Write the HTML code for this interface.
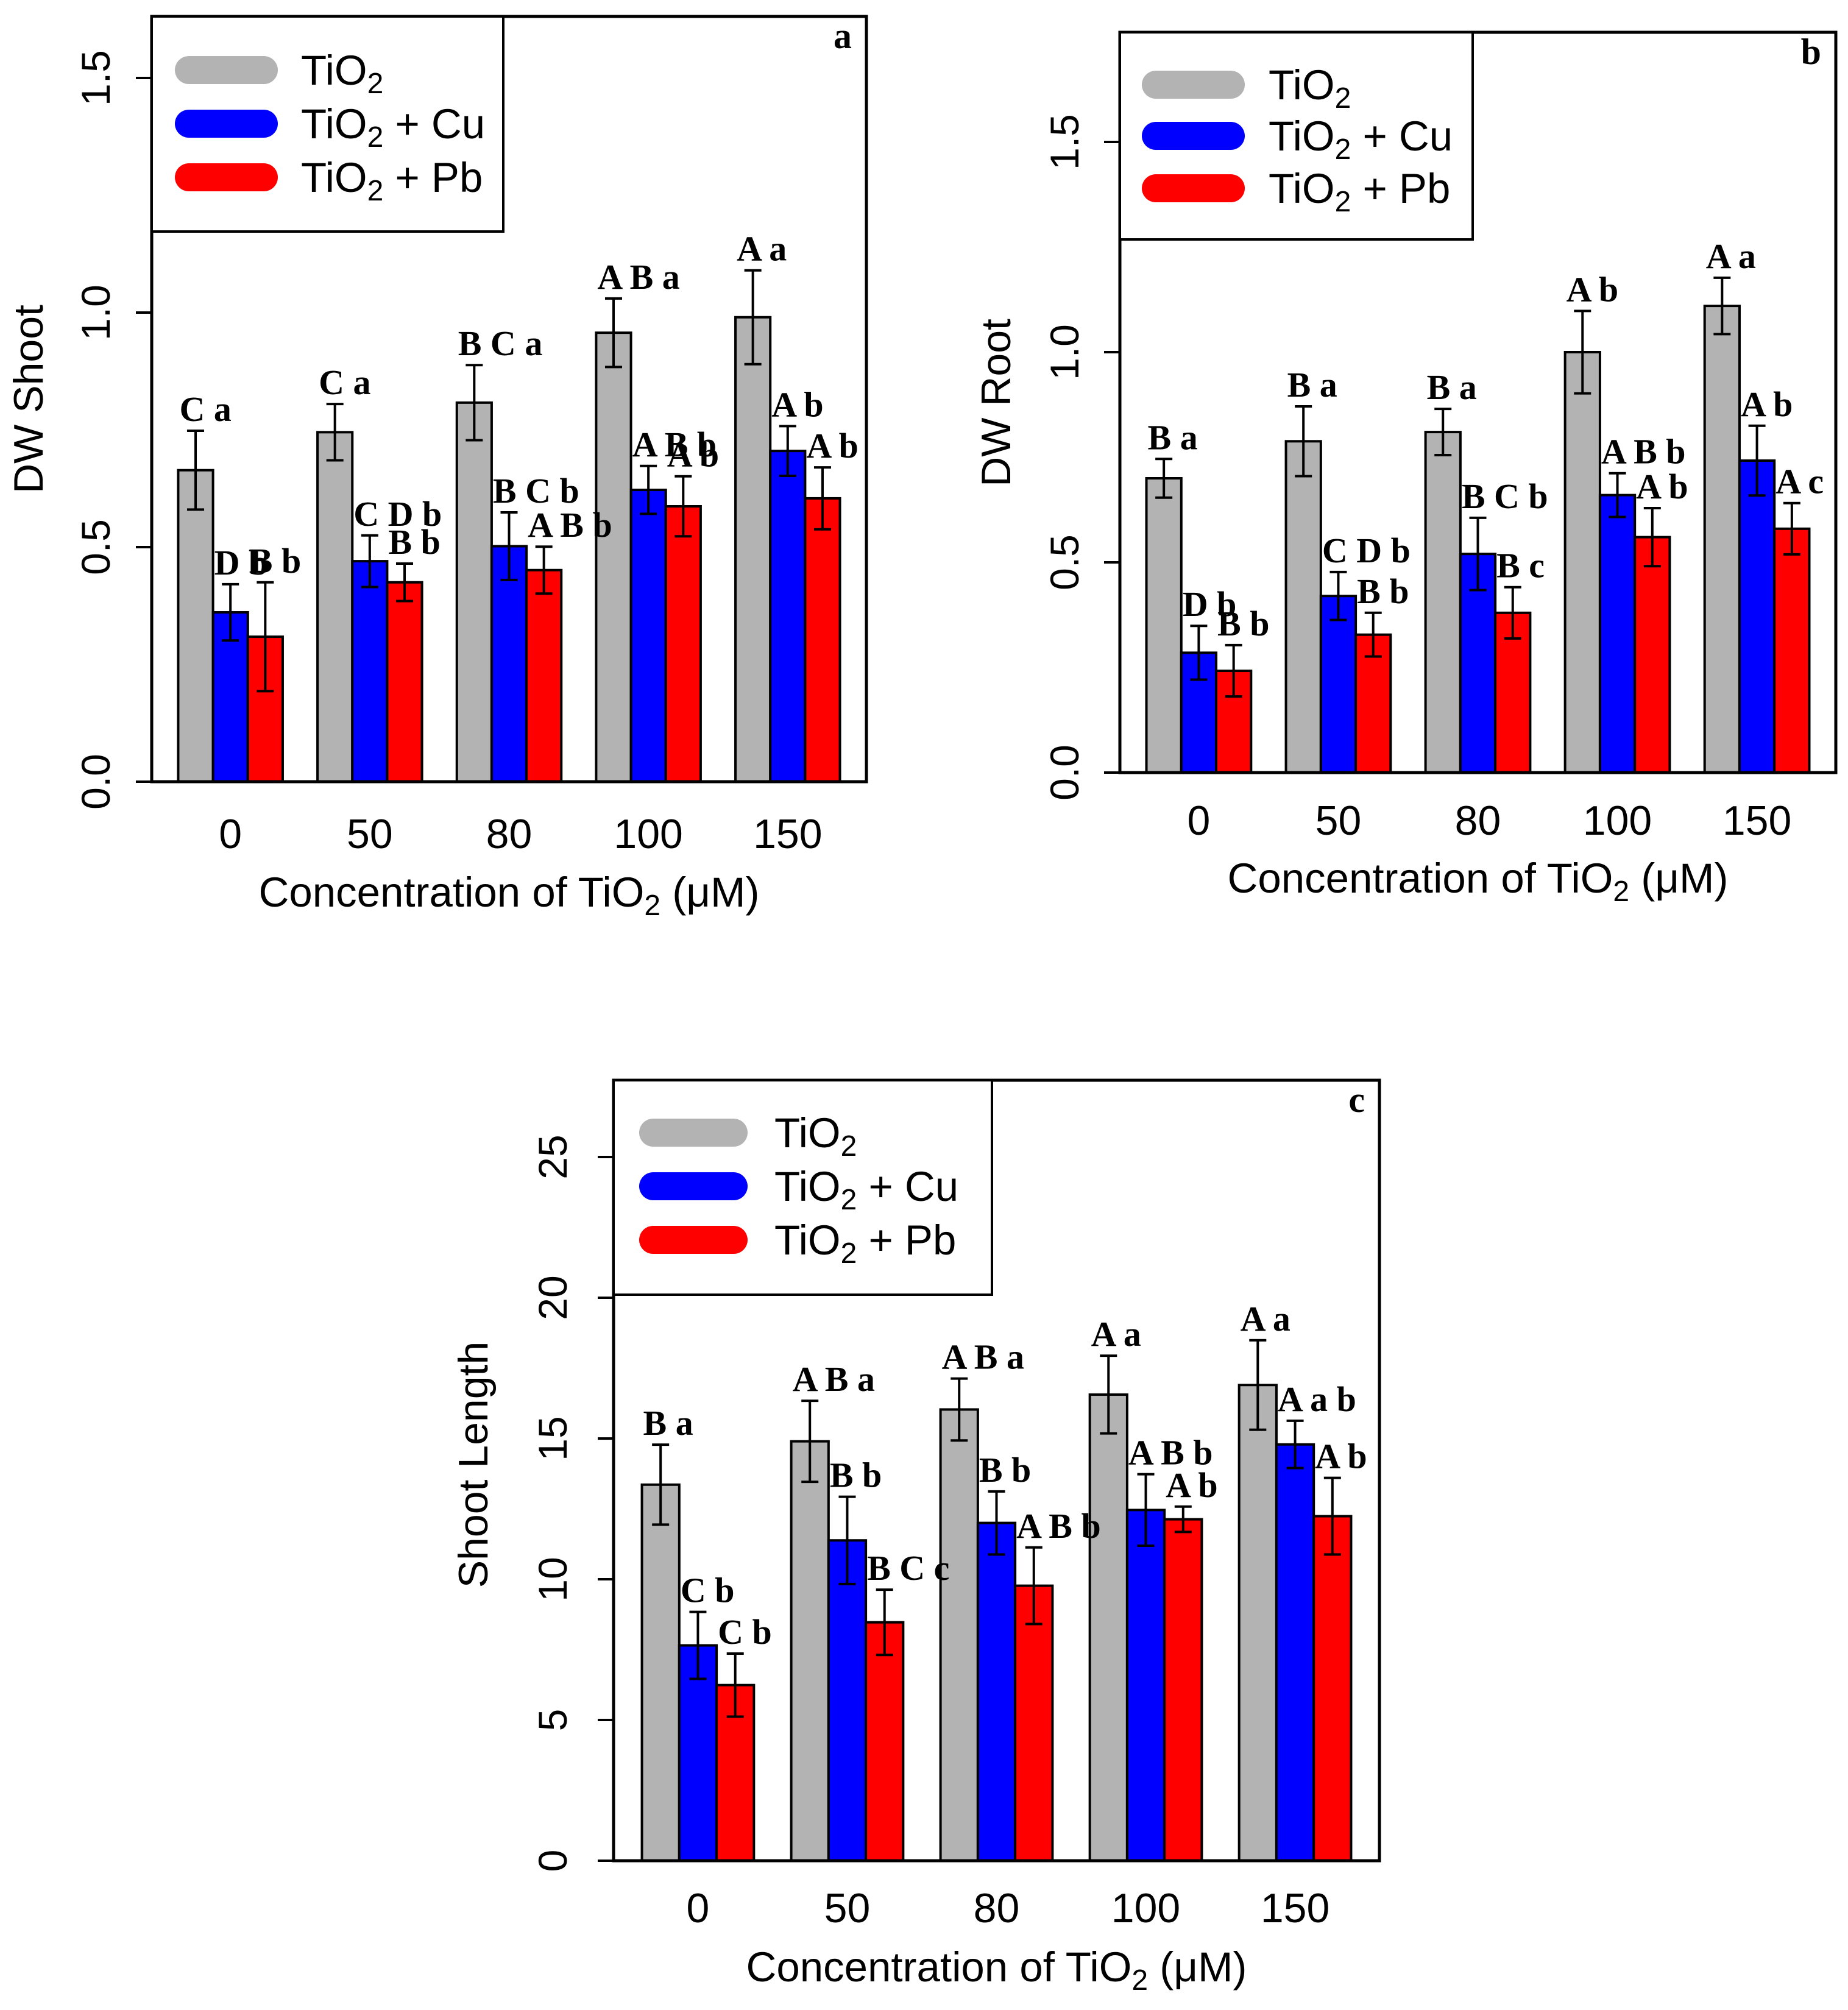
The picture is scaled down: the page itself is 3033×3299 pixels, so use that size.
<!DOCTYPE html>
<html><head><meta charset="utf-8"><style>
html,body{margin:0;padding:0;background:#fff;}
svg{display:block;}
</style></head><body>
<svg id="fig" xmlns="http://www.w3.org/2000/svg" width="3033" height="3299" viewBox="0 0 3033 3299"></svg>
<script>
const categories = ["0","50","80","100","150"];
const seriesNames = ["TiO2","TiO2 + Cu","TiO2 + Pb"];
const seriesColors = ["#b3b3b3","#0000ff","#ff0000"];

const aGray = [0.664,0.745,0.808,0.957,0.99];
const aGrayErr = [0.084,0.06,0.08,0.073,0.10];
const aBlue = [0.361,0.47,0.502,0.622,0.705];
const aBlueErr = [0.06,0.055,0.072,0.051,0.053];
const aRed = [0.309,0.425,0.451,0.587,0.604];
const aRedErr = [0.116,0.04,0.05,0.064,0.066];
const aTicks = ["0.0","0.5","1.0","1.5"];
const aGrayLab = ["C a","C a","B C a","A B a","A a"];
const aBlueLab = ["D b","C D b","B C b","A B b","A b"];
const aRedLab = ["B b","B b","A B b","A b","A b"];

const bGray = [0.70,0.788,0.81,1.0,1.11];
const bGrayErr = [0.046,0.083,0.055,0.098,0.067];
const bBlue = [0.285,0.42,0.52,0.66,0.742];
const bBlueErr = [0.064,0.057,0.086,0.052,0.083];
const bRed = [0.242,0.328,0.38,0.56,0.58];
const bRedErr = [0.061,0.052,0.061,0.069,0.061];
const bTicks = ["0.0","0.5","1.0","1.5"];
const bGrayLab = ["B a","B a","B a","A b","A a"];
const bBlueLab = ["D b","C D b","B C b","A B b","A b"];
const bRedLab = ["B b","B b","B c","A b","A c"];

const cGray = [13.36,14.9,16.03,16.56,16.9];
const cGrayErr = [1.42,1.44,1.1,1.38,1.59];
const cBlue = [7.65,11.38,12.0,12.46,14.79];
const cBlueErr = [1.19,1.55,1.12,1.27,0.84];
const cRed = [6.24,8.47,9.77,12.13,12.24];
const cRedErr = [1.12,1.16,1.36,0.45,1.36];
const cTicks = ["0","5","10","15","20","25"];
const cGrayLab = ["B a","A B a","A B a","A a","A a"];
const cBlueLab = ["C b","B b","B b","A B b","A a b"];
const cRedLab = ["C b","B C c","A B b","A b","A b"];

const NS="http://www.w3.org/2000/svg";
const svg=document.getElementById('fig');
function mk(tag,attrs,parent){const e=document.createElementNS(NS,tag);for(const k in attrs)e.setAttribute(k,attrs[k]);(parent||svg).appendChild(e);return e;}

function panel(p){
  const g=mk('g',{});
  
  
  const pw=p.right-p.left;
  const upx=pw/20.52;
  const xs=u=>p.left+(u-0.24)*upx;
  const ys=v=>p.y0-v*p.ppu;
  const series=[p.gray,p.blue,p.red], errs=[p.grayErr,p.blueErr,p.redErr], labs=[p.grayLab,p.blueLab,p.redLab];
  const labelQueue=[];
  for(let i=0;i<categories.length;i++){
    for(let s=0;s<3;s++){
      const u=1+i*4+s;
      const x=xs(u), w=upx, y=ys(series[s][i]);
      const r=mk('rect',{x:x,y:y,width:w,height:p.y0-y,fill:seriesColors[s],stroke:'#000','stroke-width':4},g);
      
      
      const cx=x+w/2, top=ys(series[s][i]+errs[s][i]), bot=ys(series[s][i]-errs[s][i]);
      const eb=mk('path',{d:`M${cx},${top}V${bot}M${cx-14},${top}H${cx+14}M${cx-14},${bot}H${cx+14}`,stroke:'#000','stroke-width':4,fill:'none'},g);
      
      
      labelQueue.push([x+2,top-16,labs[s][i]]);
    }
    const xl=mk('text',{x:xs(2.5+i*4),y:p.xlabY,'text-anchor':'middle','font-family':'"Liberation Sans",sans-serif','font-size':68,fill:'#000'},g);
    xl.textContent=categories[i];
    
    
  }
  const bx=mk('rect',{x:p.left,y:p.top,width:pw,height:p.y0-p.top,fill:'none',stroke:'#000','stroke-width':5},g);
  
  
  for(const L of labelQueue){
    const t=mk('text',{x:L[0],y:L[1],'font-family':'"Liberation Serif",serif','font-weight':'bold','font-size':58,'word-spacing':0,fill:'#000'},g);
    t.textContent=L[2];
    
    
  }
  for(let k=0;k<p.ticks.length;k++){
    const v=parseFloat(p.ticks[k]), y=ys(v);
    const tk=mk('line',{x1:p.left-26,x2:p.left,y1:y,y2:y,stroke:'#000','stroke-width':4},g);
    
    
    const tl=mk('text',{x:0,y:0,transform:`translate(${p.ytx},${y}) rotate(-90)`,'text-anchor':'middle','font-family':'"Liberation Sans",sans-serif','font-size':66,fill:'#000'},g);
    tl.textContent=p.ticks[k];
    
    
  }
  const yt=mk('text',{x:0,y:0,transform:`translate(${p.yTitleX},${p.yTitleY}) rotate(-90)`,'text-anchor':'middle','font-family':'"Liberation Sans",sans-serif','font-size':68,fill:'#000'},g);
  yt.textContent=p.ytitle;
  
  
  const xt=mk('text',{x:(p.left+p.right)/2,y:p.xTitleY,'text-anchor':'middle','font-family':'"Liberation Sans",sans-serif','font-size':69,fill:'#000'},g);
  xt.innerHTML='Concentration of TiO<tspan dy="14" font-size="48">2</tspan><tspan dy="-14"> (μM)</tspan>';
  
  
  const pl=mk('text',{x:p.right-24,y:p.top+52,'text-anchor':'end','font-family':'"Liberation Serif",serif','font-weight':'bold','font-size':60,fill:'#000'},g);
  pl.textContent=p.id;
  
  
  const lg=mk('g',{},g);
  
  
  mk('rect',{x:p.left,y:p.top,width:p.legR-p.left,height:p.legB-p.top,fill:'#fff',stroke:'#000','stroke-width':4},lg);
  for(let s=0;s<3;s++){
    const y=p.legY[s];
    const pill=mk('line',{x1:p.pillX1,x2:p.pillX2,y1:y,y2:y,stroke:seriesColors[s],'stroke-width':46,'stroke-linecap':'round'},lg);
    
    
    const t=mk('text',{x:p.legTextX,y:y+24,'font-family':'"Liberation Sans",sans-serif','font-size':69,fill:'#000'},lg);
    const suffix=seriesNames[s].slice(4);
    t.innerHTML='TiO<tspan dy="14" font-size="48">2</tspan><tspan dy="-14">'+suffix+'</tspan>';
    
    
  }
}

panel({id:'a',left:249,right:1422,top:27,y0:1283,ppu:770,gray:aGray,grayErr:aGrayErr,blue:aBlue,blueErr:aBlueErr,red:aRed,redErr:aRedErr,grayLab:aGrayLab,blueLab:aBlueLab,redLab:aRedLab,ticks:aTicks,ytx:180,ytitle:'DW Shoot',yTitleX:70,yTitleY:655,xlabY:1392,xTitleY:1488,legR:826,legB:380,legY:[115,203,291],pillX1:310,pillX2:433,legTextX:494});
panel({id:'b',left:1838,right:3013,top:53,y0:1268,ppu:690,gray:bGray,grayErr:bGrayErr,blue:bBlue,blueErr:bBlueErr,red:bRed,redErr:bRedErr,grayLab:bGrayLab,blueLab:bBlueLab,redLab:bRedLab,ticks:bTicks,ytx:1770,ytitle:'DW Root',yTitleX:1658,yTitleY:661,xlabY:1370,xTitleY:1465,legR:2417,legB:393,legY:[139,223,309],pillX1:1897,pillX2:2020,legTextX:2082});
panel({id:'c',left:1007,right:2264,top:1773,y0:3054,ppu:46.2,gray:cGray,grayErr:cGrayErr,blue:cBlue,blueErr:cBlueErr,red:cRed,redErr:cRedErr,grayLab:cGrayLab,blueLab:cBlueLab,redLab:cRedLab,ticks:cTicks,ytx:930,ytitle:'Shoot Length',yTitleX:800,yTitleY:2404,xlabY:3155,xTitleY:3252,legR:1628,legB:2125,legY:[1859,1947,2035],pillX1:1072,pillX2:1204,legTextX:1271});
</script>
</body></html>
